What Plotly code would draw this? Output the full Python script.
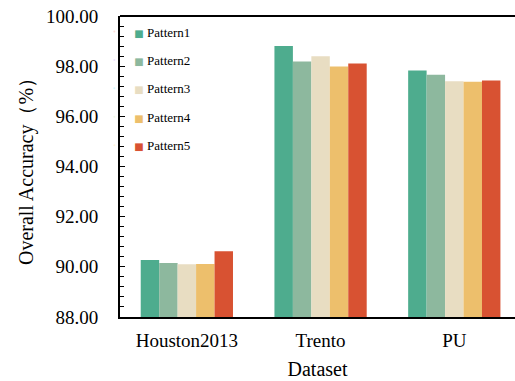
import plotly.graph_objects as go

datasets = ["Houston2013", "Trento", "PU"]
patterns = ["Pattern1", "Pattern2", "Pattern3", "Pattern4", "Pattern5"]
accuracy = {
    "Pattern1": [90.27, 98.80, 97.83],
    "Pattern2": [90.15, 98.19, 97.66],
    "Pattern3": [90.10, 98.40, 97.40],
    "Pattern4": [90.11, 97.99, 97.38],
    "Pattern5": [90.62, 98.11, 97.43],
}
colors = ["#4EAC8E", "#8DB89E", "#E8DDC2", "#EDBF6C", "#D85232"]
y_ticks = [88, 90, 92, 94, 96, 98, 100]

FONT = "Liberation Serif, Times New Roman, serif"

fig = go.Figure()
for name, color in zip(patterns, colors):
    fig.add_trace(go.Bar(
        x=datasets, y=accuracy[name], name=name,
        marker=dict(color=color, line=dict(width=0)),
        showlegend=False,
    ))
    # legend entry: small coloured square drawn as a glyph next to the name
    fig.add_trace(go.Scatter(
        x=[None], y=[None], mode="markers",
        name=f'<span style="color:{color};font-size:10px;font-family:DejaVu Sans">■</span> {name}',
        marker=dict(size=1, opacity=0),
        legendgroup=name,
    ))

fig.update_layout(
    width=515, height=381,
    margin=dict(l=120, r=0, t=16, b=64, autoexpand=False),
    paper_bgcolor="white", plot_bgcolor="white",
    font=dict(family=FONT, color="black"),
    barmode="group", bargap=0.31, bargroupgap=0,
    legend=dict(
        x=-0.065, y=0.998, xanchor="left", yanchor="top",
        font=dict(size=13, family=FONT),
        bgcolor="rgba(0,0,0,0)",
        itemwidth=30, tracegroupgap=8.5,
    ),
    shapes=[dict(type="line", xref="paper", yref="paper", x0=0, x1=1, y0=1, y1=1,
                 line=dict(color="black", width=2))],
)
fig.update_xaxes(
    range=[-0.5, 2.454], automargin=False,
    showline=True, linecolor="black", linewidth=2, mirror=False,
    ticks="", tickfont=dict(size=19, family=FONT), ticklabelstandoff=5,
    title=dict(text="Dataset", font=dict(size=20, family=FONT), standoff=12),
    showgrid=False, zeroline=False,
)
fig.update_yaxes(
    range=[88, 100], automargin=False,
    tickvals=y_ticks, ticktext=[f"{v:.2f}" for v in y_ticks],
    showline=True, linecolor="black", linewidth=2, mirror=False,
    ticks="inside", ticklen=5, tickcolor="black", tickwidth=1,
    minor=dict(dtick=0.4, tick0=88, ticks="inside", ticklen=4, tickcolor="black",
               tickwidth=1, showgrid=False),
    tickfont=dict(size=19, family=FONT), ticklabelstandoff=16,
    title=dict(text="Overall Accuracy（%）", font=dict(size=20, family=FONT), standoff=7),
    showgrid=False, zeroline=False,
)

fig.write_html("out.html", config={"displayModeBar": False})
